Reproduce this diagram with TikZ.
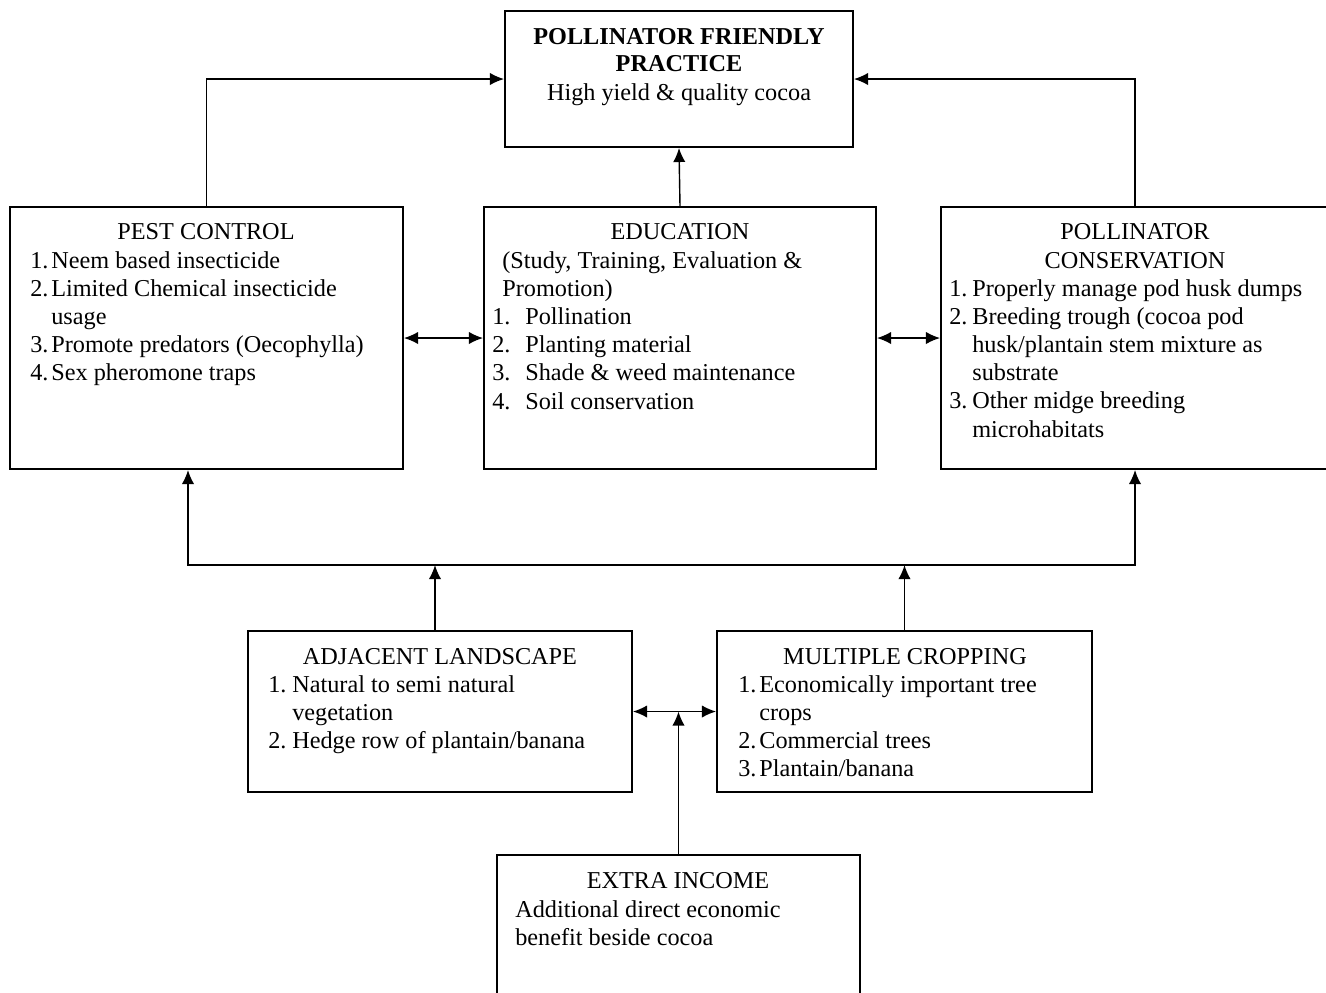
\documentclass[tikz,border=0pt]{standalone}
\usepackage{fontspec}
\setmainfont{Liberation Serif}
\usetikzlibrary{arrows.meta,fit}
\newcommand\fs{\fontsize{13.8}{16.05}\selectfont}
\newcommand\nb[2]{\makebox[#1][l]{#2}}
\tikzset{
  box/.style={draw, line width=1.1pt, inner sep=0pt, fit={#1}},
  tc/.style={inner sep=0pt, anchor=base, font=\fs},
  tl/.style={inner sep=0pt, anchor=base west, font=\fs},
  conn/.style={line width=0.8pt, -{Latex[length=8pt,width=7pt]}},
  dconn/.style={line width=0.8pt, {Latex[length=8pt,width=7pt]}-{Latex[length=8pt,width=7pt]}},
}
\begin{document}
\begin{tikzpicture}[x=0.02cm,y=-0.02cm]
\useasboundingbox (0,0) rectangle (1326,992);
\clip (0,0) rectangle (1326,992);
% boxes
\node[box={(505,11)(853,147)}] (top) {};
\node[box={(10,207)(403,469)}] (pc) {};
\node[box={(484,207)(876,469)}] (edu) {};
\node[box={(941,207)(1329,469)}] (poc) {};
\node[box={(248,631)(632,792)}] (al) {};
\node[box={(717,631)(1092,792)}] (mc) {};
\node[box={(497,855)(860,1000)}] (ei) {};
% texts
\node[tc] (top1) at (679,44) {\bfseries POLLINATOR FRIENDLY};
\node[tc] (top2) at (679,71) {\bfseries PRACTICE};
\node[tc] (top3) at (679,100) {High yield \& quality cocoa};
\node[tc] (pct) at (206,239) {PEST CONTROL};
\node[tl] (pcl) at (30,268) {\parbox[t]{10cm}{%
\nb{0.42cm}{1.}Neem based insecticide\\
\nb{0.42cm}{2.}Limited Chemical insecticide\\
\hspace*{0.42cm}usage\\
\nb{0.42cm}{3.}Promote predators (Oecophylla)\\
\nb{0.42cm}{4.}Sex pheromone traps}};
\node[tc] (edt) at (680,239) {EDUCATION};
\node[tl] (edl) at (492,268) {\parbox[t]{10cm}{%
\hspace*{0.2cm}(Study, Training, Evaluation \&\\
\hspace*{0.2cm}Promotion)\\
\nb{0.66cm}{1.}Pollination\\
\nb{0.66cm}{2.}Planting material\\
\nb{0.66cm}{3.}Shade \& weed maintenance\\
\nb{0.66cm}{4.}Soil conservation}};
\node[tc] (pot1) at (1135,239) {POLLINATOR};
\node[tc] (pot2) at (1135,268) {CONSERVATION};
\node[tl] (pol) at (949,296) {\parbox[t]{10cm}{%
\nb{0.46cm}{1.}Properly manage pod husk dumps\\
\nb{0.46cm}{2.}Breeding trough (cocoa pod\\
\hspace*{0.46cm}husk/plantain stem mixture as\\
\hspace*{0.46cm}substrate\\
\nb{0.46cm}{3.}Other midge breeding\\
\hspace*{0.46cm}microhabitats}};
\node[tc] (alt) at (440,664) {ADJACENT LANDSCAPE};
\node[tl] (all) at (268,692) {\parbox[t]{10cm}{%
\nb{0.48cm}{1.}Natural to semi natural\\
\hspace*{0.48cm}vegetation\\
\nb{0.48cm}{2.}Hedge row of plantain/banana}};
\node[tc] (mct) at (905,664) {MULTIPLE CROPPING};
\node[tl] (mcl) at (738,692) {\parbox[t]{10cm}{%
\nb{0.42cm}{1.}Economically important tree\\
\hspace*{0.42cm}crops\\
\nb{0.42cm}{2.}Commercial trees\\
\nb{0.42cm}{3.}Plantain/banana}};
\node[tc] (eit) at (678,888) {EXTRA INCOME};
\node[tl] (eil) at (515,917) {\parbox[t]{10cm}{%
Additional direct economic\\
benefit beside cocoa}};
% connectors
\coordinate (bl) at (188,565);
\coordinate (br) at (1135,565);
\coordinate (ba) at (435,565);
\draw[conn] (pc.north) |- (top.west);
\draw[conn] (poc.north) |- (top.east);
\draw[conn] (edu.north) -- (top.south);
\draw[dconn] (pc.east) -- (edu.west);
\draw[dconn] (edu.east) -- (poc.west);
\draw[dconn] (pc.south -| bl) -- (bl) -- (br) -- (poc.south);
\draw[conn] (al.north -| ba) -- (ba);
\draw[conn] (mc.north) -- (mc.north |- bl);
\draw[dconn] (al.east) -- (mc.west);
\draw[conn] (ei.north) -- (ei.north |- al.east);
\end{tikzpicture}
\end{document}
